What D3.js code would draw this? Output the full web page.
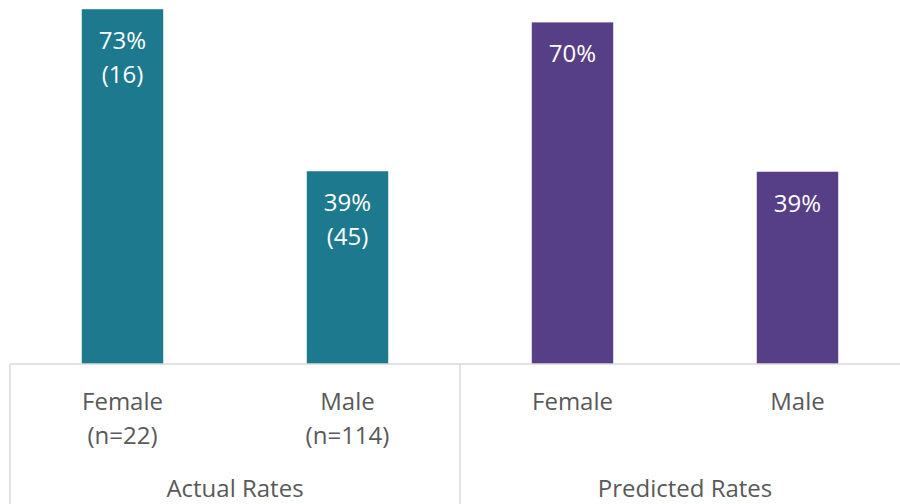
<!DOCTYPE html>
<html><head><meta charset="utf-8">
<script src="https://cdn.jsdelivr.net/npm/d3@7"></script>
<style>body{margin:0;background:#fff}svg{display:block}</style>
</head><body>
<svg id="c" width="900" height="504"></svg>
<script>
const groups = ["Actual Rates", "Predicted Rates"];
const categories = ["Female", "Male"];
const catSub = [["(n=22)", "(n=114)"], ["", ""]];
const values = [[72.7, 39.5], [70.0, 39.4]];
const valueLabels = [["73%", "39%"], ["70%", "39%"]];
const countLabels = [["(16)", "(45)"], ["", ""]];
const colors = ["#1D7A8E", "#573F87"];

const svg = d3.select("#c");
const left = 10, right = 910, base = 364, font = "'Open Sans', sans-serif";
const gx = d3.scaleBand().domain(groups).range([left, right]);
const cx = d3.scaleBand().domain(categories).range([0, gx.bandwidth()]).paddingInner(0.638).paddingOuter(0.319);
const y = d3.scaleLinear().domain([0, 100]).range([base, base - 488]);

const data = [];
groups.forEach((g, gi) => categories.forEach((c, ci) => data.push({g, gi, c, ci, v: values[gi][ci]})));

svg.selectAll("rect.bar").data(data).join("rect").attr("class","bar")
  .attr("x", d => gx(d.g) + cx(d.c)).attr("width", cx.bandwidth())
  .attr("y", d => y(d.v)).attr("height", d => base - y(d.v))
  .attr("fill", d => colors[d.gi]);

// axis lines
svg.append("line").attr("x1", left).attr("x2", 900).attr("y1", base).attr("y2", base)
  .attr("stroke", "#d9d9d9").attr("stroke-width", 1.5);
groups.forEach(g => {
  svg.append("line").attr("x1", gx(g)).attr("x2", gx(g)).attr("y1", base).attr("y2", 504)
    .attr("stroke", "#d9d9d9").attr("stroke-width", 1.5);
});

const mid = d => gx(d.g) + cx(d.c) + cx.bandwidth() / 2;
const t = svg.append("g").attr("font-family", font).attr("font-size", 24).attr("text-anchor", "middle");
t.selectAll("text.v").data(data).join("text").attr("class","v")
  .attr("x", mid).attr("y", d => y(d.v) + 40).attr("fill", "#fff").text(d => valueLabels[d.gi][d.ci]);
t.selectAll("text.n").data(data).join("text").attr("class","n")
  .attr("x", mid).attr("y", d => y(d.v) + 74).attr("fill", "#fff").text(d => countLabels[d.gi][d.ci]);
t.selectAll("text.c").data(data).join("text").attr("class","c")
  .attr("x", mid).attr("y", 410).attr("fill", "#595959").text(d => d.c);
t.selectAll("text.s").data(data).join("text").attr("class","s")
  .attr("x", mid).attr("y", 444).attr("fill", "#595959").text(d => catSub[d.gi][d.ci]);
t.selectAll("text.g").data(groups).join("text").attr("class","g")
  .attr("x", g => gx(g) + gx.bandwidth() / 2).attr("y", 497).attr("fill", "#595959").text(g => g);
</script>
</body></html>
